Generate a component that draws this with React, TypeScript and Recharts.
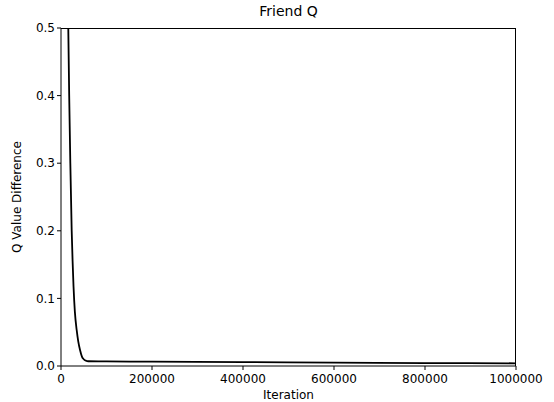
import { LineChart, Line, XAxis, YAxis } from "recharts";

// iteration -> Q value difference
const iterations = [
  14000, 16000, 18000, 20500, 23500, 25500, 27500, 30500, 34500, 38000, 41700,
  46000, 50000, 55000, 60000, 100000, 200000, 400000, 600000, 800000, 1000000,
];
const qDiff = [
  0.62, 0.5, 0.4, 0.3, 0.2, 0.155, 0.118, 0.08, 0.053, 0.036, 0.024,
  0.014, 0.01, 0.0078, 0.007, 0.0068, 0.0064, 0.0057, 0.005, 0.0044, 0.004,
];
const xTicks = [0, 200000, 400000, 600000, 800000, 1000000];
const yTicks = [0, 0.1, 0.2, 0.3, 0.4, 0.5];

const data = iterations.map((it, i) => ({ it, q: qDiff[i] }));

const font = "'DejaVu Sans', sans-serif";
const tickStyle = { fontSize: 12, fill: "#000", fontFamily: font };

export default function App() {
  return (
    <div style={{ position: "absolute", left: 0, top: 0, width: 554, height: 402, background: "#fff", fontFamily: font }}>
      <div style={{ position: "absolute", left: 61, width: 455, top: 3, textAlign: "center", fontSize: 14, color: "#000" }}>
        Friend Q
      </div>
      <div
        style={{
          position: "absolute",
          left: 61,
          top: 28,
          width: 455,
          height: 338,
          borderTop: "1px solid #000",
          borderRight: "1px solid #000",
          boxSizing: "border-box",
          pointerEvents: "none",
        }}
      />
      <LineChart width={554} height={402} data={data} margin={{ top: 28, right: 38, left: 0, bottom: 0 }}>
        <XAxis
          dataKey="it"
          type="number"
          domain={[0, 1000000]}
          ticks={xTicks}
          interval={0}
          height={36}
          stroke="#000"
          tick={tickStyle}
          tickSize={4}
          tickMargin={4}
          label={{ value: "Iteration", position: "insideBottom", offset: 3, style: { ...tickStyle } }}
        />
        <YAxis
          type="number"
          domain={[0, 0.5]}
          ticks={yTicks}
          interval={0}
          allowDataOverflow
          width={61}
          stroke="#000"
          tick={tickStyle}
          tickSize={4}
          tickMargin={2}
          tickFormatter={(v: number) => v.toFixed(1)}
          label={{ value: "Q Value Difference", angle: -90, position: "insideLeft", offset: 17, style: { ...tickStyle, textAnchor: "middle" } }}
        />
        <Line
          dataKey="q"
          type="monotone"
          stroke="#000"
          strokeWidth={1.8}
          dot={false}
          isAnimationActive={false}
        />
      </LineChart>
    </div>
  );
}
